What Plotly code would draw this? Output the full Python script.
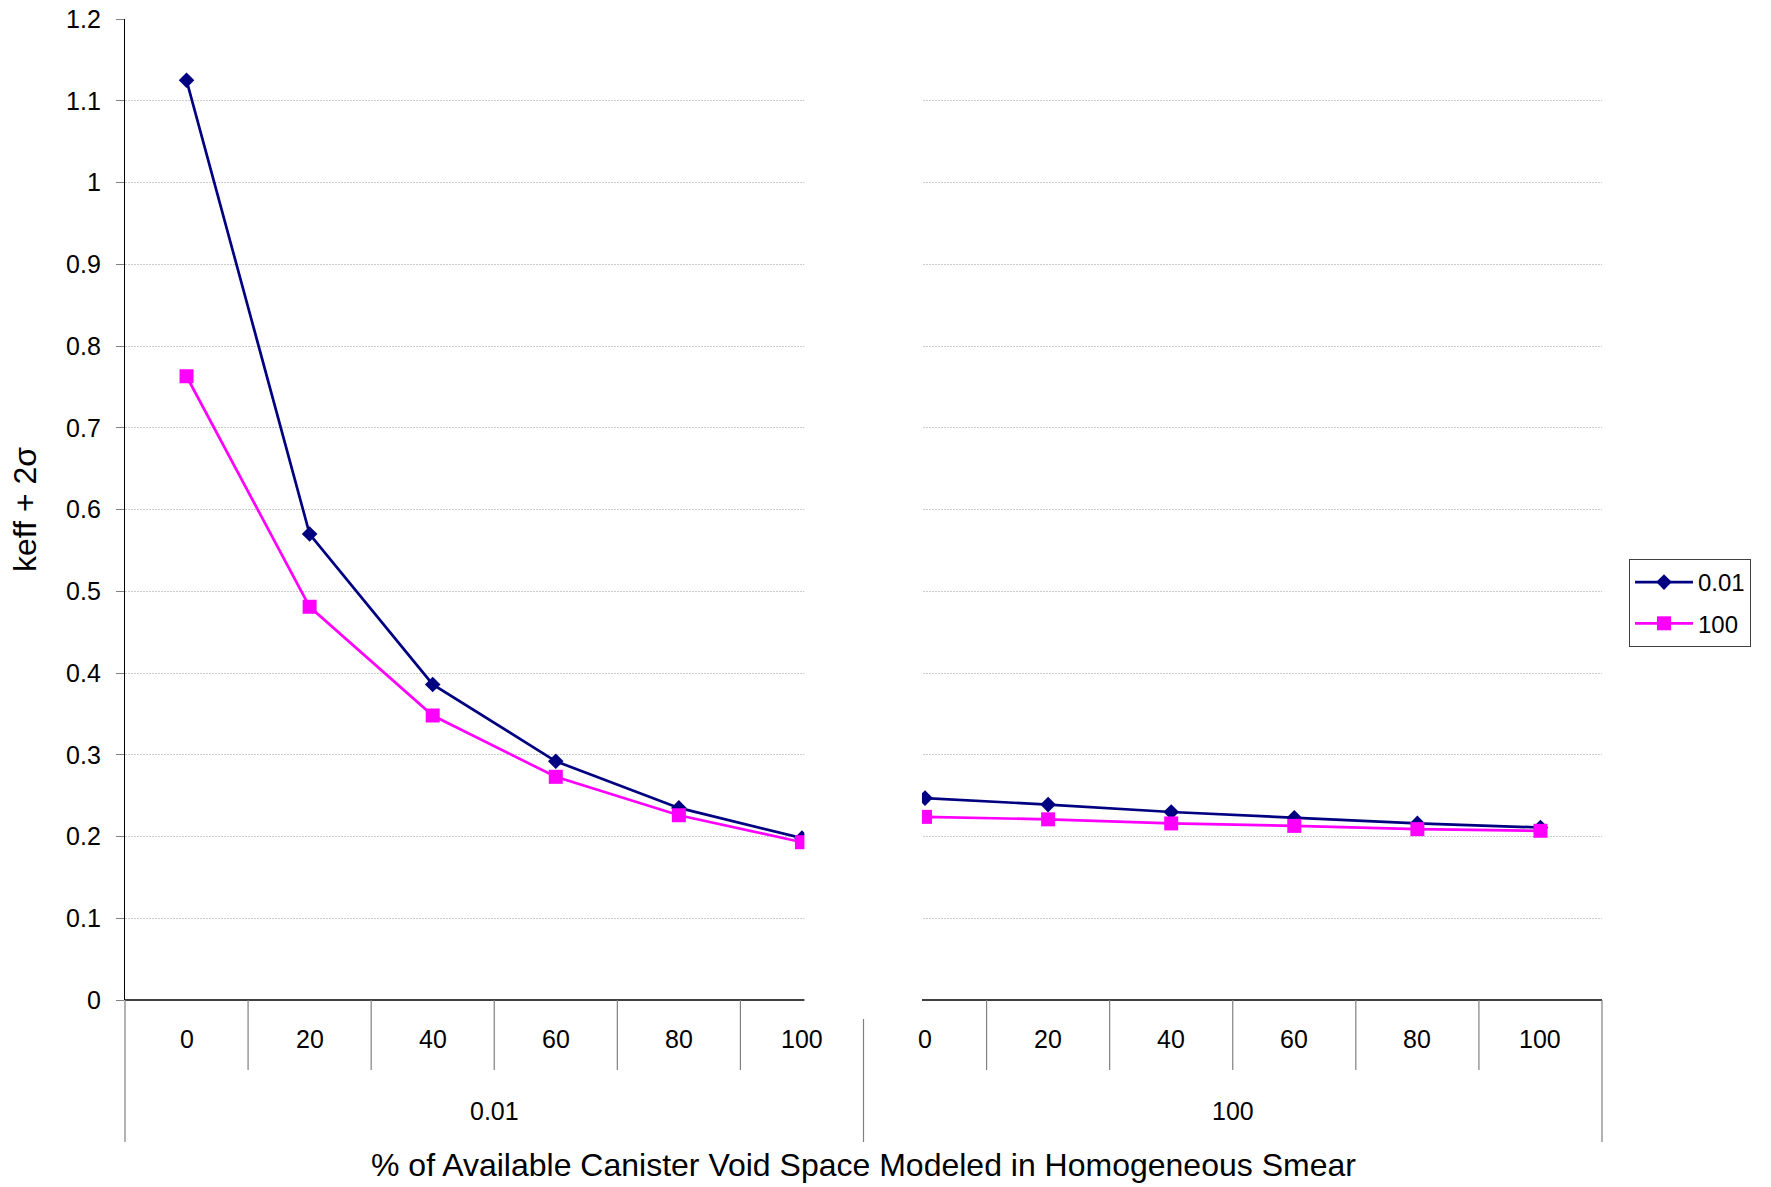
import plotly.graph_objects as go

# ---- data ----
groups = ["0.01", "100"]
void_pct = ["0", "20", "40", "60", "80", "100"]
series_names = ["0.01", "100"]
keff_001 = [1.125, 0.570, 0.386, 0.292, 0.235, 0.198,
            0.247, 0.239, 0.230, 0.223, 0.216, 0.211]
keff_100 = [0.763, 0.481, 0.348, 0.273, 0.226, 0.193,
            0.224, 0.221, 0.216, 0.213, 0.209, 0.207]
y_ticks = [0, 0.1, 0.2, 0.3, 0.4, 0.5, 0.6, 0.7, 0.8, 0.9, 1, 1.1, 1.2]

W, H = 1771, 1187
L, R, T, B = 125, 169, 19, 187
PW, PH = W - L - R, H - T - B

n = len(groups) * len(void_pct)
xs = list(range(n))
ticktext = void_pct * len(groups)

FONT = "Liberation Sans, Arial, sans-serif"
GRAY = "#808080"

fig = go.Figure()
fig.add_trace(go.Scatter(
    x=xs, y=keff_001, name=series_names[0], mode="lines+markers", legendgroup="a",
    line=dict(color="#000080", width=2.7),
    marker=dict(symbol="diamond", size=12, color="#000080"),
))
fig.add_trace(go.Scatter(
    x=xs, y=keff_100, name=series_names[1], mode="lines+markers", legendgroup="b",
    line=dict(color="#FF00FF", width=2.7),
    marker=dict(symbol="square", size=14, color="#FF00FF"),
))

def px_x(p):
    return (p - L) / PW

def px_y(p):
    return 1 - (p - T) / PH

shapes = []
# white mask in the gap between groups
shapes.append(dict(type="rect", xref="x", yref="y", x0=5.02, x1=5.975, y0=-0.01, y1=1.19,
                   fillcolor="white", line=dict(width=0), layer="above"))
# x axis line with gap
gx0 = (5.02 + 0.5) / n
gx1 = (5.975 + 0.5) / n
shapes.append(dict(type="line", xref="paper", yref="paper", x0=0, x1=gx0, y0=0, y1=0,
                   line=dict(color="black", width=1.3), layer="above"))
shapes.append(dict(type="line", xref="paper", yref="paper", x0=gx1, x1=1, y0=0, y1=0,
                   line=dict(color="black", width=1.3), layer="above"))
# category ticks
for i in range(1, n):
    if i == len(void_pct):
        continue
    xp = i / n
    shapes.append(dict(type="line", xref="paper", yref="paper", x0=xp, x1=xp,
                       y0=0, y1=px_y(1070), line=dict(color=GRAY, width=1.2)))
# group separators
for xp, ytop in [(0, 1000), (0.5, 1019), (1, 1000)]:
    shapes.append(dict(type="line", xref="paper", yref="paper", x0=xp, x1=xp,
                       y0=px_y(ytop), y1=px_y(1142), line=dict(color=GRAY, width=1.2)))

annotations = []
for i, t in enumerate(ticktext):
    annotations.append(dict(x=i, y=px_y(1039), xref="x", yref="paper", text=t,
                            showarrow=False, font=dict(size=25, color="black", family=FONT),
                            xanchor="center", yanchor="middle"))
for g, name in enumerate(groups):
    xc = (g * len(void_pct) + (len(void_pct) - 1) / 2)
    annotations.append(dict(x=xc, y=px_y(1111), xref="x", yref="paper", text=name,
                            showarrow=False, font=dict(size=25, color="black", family=FONT),
                            xanchor="center", yanchor="middle"))
annotations.append(dict(x=px_x(863), y=px_y(1165), xref="paper", yref="paper",
                        text="% of Available Canister Void Space Modeled in Homogeneous Smear",
                        showarrow=False, font=dict(size=32, color="black", family=FONT),
                        xanchor="center", yanchor="middle"))
annotations.append(dict(x=px_x(25), y=px_y(510), xref="paper", yref="paper",
                        text="keff + 2σ", textangle=-90,
                        showarrow=False, font=dict(size=32, color="black", family=FONT),
                        xanchor="center", yanchor="middle"))

fig.update_layout(
    width=W, height=H,
    margin=dict(l=L, r=R, t=T, b=B, pad=0, autoexpand=False),
    paper_bgcolor="white", plot_bgcolor="white",
    font=dict(family=FONT, size=24, color="black"),
    showlegend=True,
    legend=dict(x=px_x(1629), y=px_y(559), xanchor="left", yanchor="top",
                bordercolor="#404040", borderwidth=1, bgcolor="white",
                font=dict(size=24, family=FONT), tracegroupgap=7,
                traceorder="grouped", itemwidth=58),
    shapes=shapes, annotations=annotations,
)
fig.update_xaxes(range=[-0.5, n - 0.5], showgrid=False, zeroline=False, automargin=False,
                 showticklabels=False, ticks="", showline=False, fixedrange=True)
fig.update_yaxes(range=[0, 1.2], tickvals=y_ticks, automargin=False,
                 ticktext=[("%g" % v) for v in y_ticks],
                 showgrid=True, gridcolor="#cccccc", griddash="2px,1px", gridwidth=1,
                 zeroline=False, showline=True, linecolor="black", linewidth=1.3,
                 ticks="outside", ticklen=8, tickcolor=GRAY, tickwidth=1.2,
                 ticklabelstandoff=10,
                 tickfont=dict(size=25, family=FONT, color="black"))

fig.write_html("out.html")
